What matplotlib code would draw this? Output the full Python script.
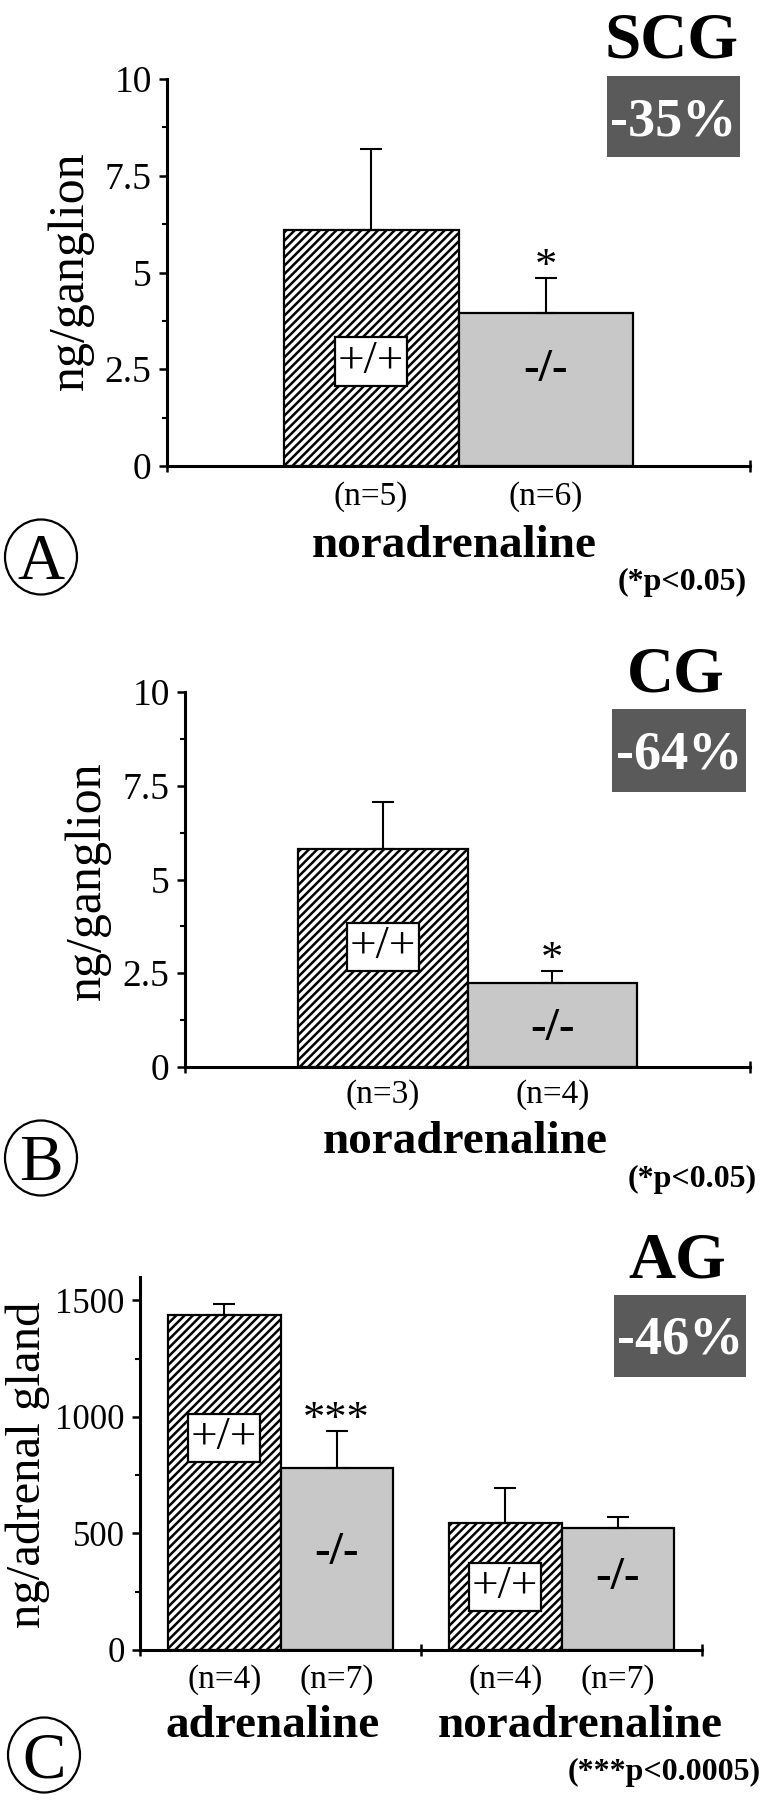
import matplotlib
matplotlib.use('Agg')
import matplotlib.pyplot as plt
from matplotlib.patches import Rectangle, Ellipse
import numpy as np

plt.rcParams['font.family'] = ['Liberation Serif', 'DejaVu Serif']
plt.rcParams['hatch.linewidth'] = 1.8

W, H = 763, 1800

# --- data ---
# A: superior cervical ganglion, noradrenaline
scg_n = ['(n=5)', '(n=6)']
scg_mean = [6.1, 3.95]
scg_sem = [2.1, 0.9]

# B: coeliac ganglion, noradrenaline
cg_n = ['(n=3)', '(n=4)']
cg_mean = [5.82, 2.23]
cg_sem = [1.25, 0.32]

# C: adrenal gland, adrenaline + noradrenaline
ag_n = ['(n=4)', '(n=7)', '(n=4)', '(n=7)']
ag_mean = [1436, 780, 544, 523]
ag_sem = [47, 159, 150, 47]

genotype = ['+/+', '-/-']


def px(x, y):
    return x / W, 1 - y / H


def bar_panel(rect, xpos, means, sems, nlabels, ylim, yticks, yticklabels,
              yminor, xminor, npad, geno_pos, stars, ysize=27):
    l, r, b, t = rect
    ax = fig.add_axes([l / W, 1 - b / H, (r - l) / W, (b - t) / H])
    for i, (x, m) in enumerate(zip(xpos, means)):
        if i % 2 == 0:
            ax.bar(x, m, width=bw, facecolor='white', edgecolor='black',
                   hatch='////', linewidth=1.6, zorder=2)
        else:
            ax.bar(x, m, width=bw, facecolor='#c8c8c8', edgecolor='black',
                   linewidth=1.6, zorder=2)
    ax.errorbar(xpos, means, yerr=[np.zeros(len(sems)), sems], fmt='none',
                ecolor='black', elinewidth=1.5, capsize=8, capthick=1.5, zorder=3)

    ax.set_xlim(0, 10)
    ax.set_ylim(*ylim)
    ax.spines[['top', 'right']].set_visible(False)
    ax.spines[['left', 'bottom']].set_linewidth(2.2)

    ax.set_xticks(xpos, nlabels)
    ax.set_xticks(xminor, minor=True)
    ax.tick_params(axis='x', which='major', length=0, pad=npad, labelsize=24)
    ax.tick_params(axis='x', which='minor', direction='inout', length=8, width=1.8)

    ax.set_yticks(yticks, yticklabels)
    ax.set_yticks(yminor, minor=True)
    ax.tick_params(axis='y', which='major', direction='out', length=6,
                   width=1.8, pad=5, labelsize=ysize)
    ax.tick_params(axis='y', which='minor', direction='out', length=3.5, width=1.5)

    for i, (x, y) in enumerate(zip(xpos, geno_pos)):
        if i % 2 == 0:
            ax.text(x, y, genotype[0], ha='center', va='center', fontsize=34,
                    zorder=5, bbox=dict(boxstyle='square,pad=0.06', fc='white',
                                        ec='black', lw=1.6))
        else:
            ax.text(x, y, genotype[1], ha='center', va='center', fontsize=34,
                    fontweight='bold', zorder=5)
    for i, s in stars:
        ax.annotate(s, xy=(xpos[i], means[i] + sems[i]), xytext=(0, 0),
                    textcoords='offset points', ha='center', va='baseline',
                    fontsize=32)
    return ax


fig = plt.figure(figsize=(W / 100, H / 100), dpi=100)
bw = 3.0

bar_panel((167, 750, 466, 79), [3.5, 6.5], scg_mean, scg_sem, scg_n,
          (0, 10), [0, 2.5, 5, 7.5, 10], ['0', '2.5', '5', '7.5', '10'],
          [1.25, 3.75, 6.25, 8.75], [0, 10], 11, [2.7, 2.48], [(1, '*')])

bar_panel((185, 750, 1067, 692), [3.5, 6.5], cg_mean, cg_sem, cg_n,
          (0, 10), [0, 2.5, 5, 7.5, 10], ['0', '2.5', '5', '7.5', '10'],
          [1.25, 3.75, 6.25, 8.75], [0, 10], 9, [3.2, 1.0], [(1, '*')])

bw = 2.0
bar_panel((140, 702, 1650, 1277), [1.5, 3.5, 6.5, 8.5], ag_mean, ag_sem, ag_n,
          (0, 1600), [0, 500, 1000, 1500], ['0', '500', '1000', '1500'],
          [250, 750, 1250], [0, 5, 10], 10.5, [909, 416, 270, 309], [(1, '***')],
          ysize=25)

# y labels
fig.text(*px(71, 271), 'ng/ganglion', rotation=90, ha='center', va='center', fontsize=36)
fig.text(*px(88, 881), 'ng/ganglion', rotation=90, ha='center', va='center', fontsize=36)
fig.text(*px(28, 1465), 'ng/adrenal gland', rotation=90, ha='center', va='center', fontsize=35)

# group labels
fig.text(*px(454, 557), 'noradrenaline', ha='center', va='baseline', fontsize=34, fontweight='bold')
fig.text(*px(465, 1153), 'noradrenaline', ha='center', va='baseline', fontsize=34, fontweight='bold')
fig.text(*px(273, 1737), 'adrenaline', ha='center', va='baseline', fontsize=34, fontweight='bold')
fig.text(*px(580, 1737), 'noradrenaline', ha='center', va='baseline', fontsize=34, fontweight='bold')

# p-value notes
fig.text(*px(682, 590), '(*p<0.05)', ha='center', va='baseline', fontsize=23, fontweight='bold')
fig.text(*px(692, 1187), '(*p<0.05)', ha='center', va='baseline', fontsize=23, fontweight='bold')
fig.text(*px(664, 1780), '(***p<0.0005)', ha='center', va='baseline', fontsize=23, fontweight='bold')

# region titles and reduction boxes
titles = [('SCG', 671, 57, '-35%', (607, 740, 76, 157)),
          ('CG', 676, 691, '-64%', (612, 746, 709, 792)),
          ('AG', 677, 1277, '-46%', (614, 746, 1295, 1377))]
for name, tx, ty, pct, (x0, x1, y0, y1) in titles:
    fig.text(*px(tx, ty), name, ha='center', va='baseline', fontsize=47, fontweight='bold')
    fig.add_artist(Rectangle(px(x0, y1), (x1 - x0) / W, (y1 - y0) / H,
                             transform=fig.transFigure, fc='#5a5a5a', ec='none'))
    fig.text(*px((x0 + x1) / 2, y0 + 59), pct, ha='center', va='baseline',
             fontsize=39, fontweight='bold', color='white')

# circled panel letters
for letter, cx, cy in [('A', 41, 557), ('B', 41, 1158), ('C', 44, 1755)]:
    fig.add_artist(Ellipse(px(cx, cy), 72 / W, 75 / H, transform=fig.transFigure,
                           fill=False, lw=1.6, ec='black'))
    fig.text(*px(cx, cy + 22), letter, ha='center', va='baseline', fontsize=47)

fig.savefig('out.png', dpi=100)
